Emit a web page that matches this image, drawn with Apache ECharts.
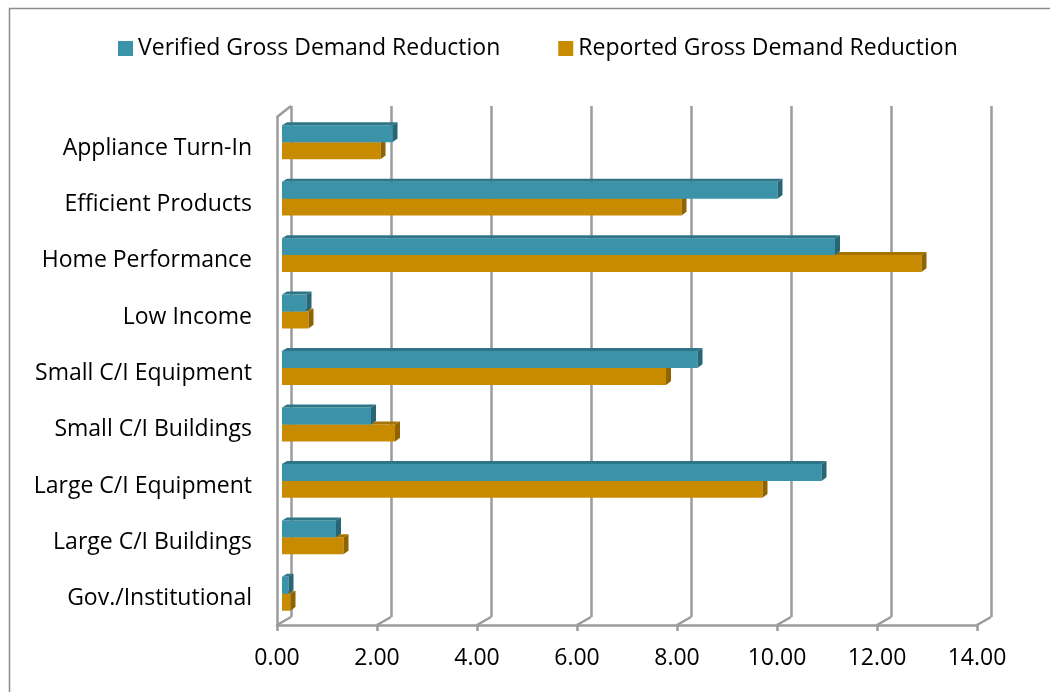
<!DOCTYPE html>
<html>
<head>
<meta charset="utf-8">
<script src="https://cdn.jsdelivr.net/npm/echarts@6/dist/echarts.min.js"></script>
<style>
html,body{margin:0;padding:0;background:#fff;}
#chart{width:1050px;height:692px;}
</style>
</head>
<body>
<div id="chart"></div>
<script>
const categories = ['Appliance Turn-In','Efficient Products','Home Performance','Low Income','Small C/I Equipment','Small C/I Buildings','Large C/I Equipment','Large C/I Buildings','Gov./Institutional'];
const verified = [2.21, 9.91, 11.06, 0.49, 8.31, 1.78, 10.79, 1.08, 0.13];
const reported = [1.97, 7.99, 12.79, 0.53, 7.68, 2.26, 9.61, 1.23, 0.17];
const xTicks = [0, 2, 4, 6, 8, 10, 12, 14];
const seriesNames = ['Verified Gross Demand Reduction', 'Reported Gross Demand Reduction'];

const FONT = 'Open Sans';
const GRID_COLOR = '#9b9b9b';
const GRID_W = 2.5;
const DX = 5, DY = 3;

function barRenderer(which, front, topC, sideC) {
  return function (params, api) {
    const val = api.value(0), ci = api.value(1);
    const s = api.coord([0, ci]);
    const e = api.coord([val, ci]);
    const band = api.size([0, 1])[1];
    const h = band * 0.3;
    const cy = s[1];
    const y0 = which === 0 ? cy - h : cy;
    const x0 = s[0], x1 = e[0];
    return {
      type: 'group',
      children: [
        { type: 'rect', shape: { x: x0, y: y0, width: x1 - x0, height: h }, style: { fill: front } },
        { type: 'polygon', shape: { points: [[x0, y0], [x1, y0], [x1 + DX, y0 - DY], [x0 + DX, y0 - DY]] }, style: { fill: topC } },
        { type: 'polygon', shape: { points: [[x1, y0], [x1 + DX, y0 - DY], [x1 + DX, y0 + h - DY - 1], [x1 + DX - 1, y0 + h - DY], [x1, y0 + h]] }, style: { fill: sideC } }
      ]
    };
  };
}

const chart = echarts.init(document.getElementById('chart'));
chart.setOption({
  animation: false,
  textStyle: { fontFamily: FONT },
  graphic: [{
    type: 'rect', left: 7, top: 6, shape: { x: 0, y: 0, width: 1100, height: 720 },
    style: { fill: 'none', stroke: '#8c8c8c', lineWidth: 1.5 }, silent: true, z: -10
  }],
  legend: {
    data: seriesNames,
    left: 113, top: 32,
    itemWidth: 15, itemHeight: 15, itemGap: 58,
    icon: 'rect',
    textStyle: { fontSize: 23, color: '#000', fontFamily: FONT }
  },
  grid: [
    { left: 282, right: 68, top: 114, bottom: 70 },
    { left: 277, right: 73, top: 117, bottom: 67 },
    { left: 291, right: 59, top: 106, bottom: 75 },
    { left: 277, right: 73, top: 120, bottom: 65 }
  ],
  xAxis: [
    { gridIndex: 0, type: 'value', min: 0, max: 14, interval: 2, show: false },
    { gridIndex: 1, type: 'value', min: 0, max: 14, interval: 2,
      axisLine: { show: true, lineStyle: { color: GRID_COLOR, width: GRID_W } },
      axisTick: { show: true, length: 6, lineStyle: { color: GRID_COLOR, width: GRID_W } },
      axisLabel: { formatter: v => v.toFixed(2), fontSize: 23, color: '#000', margin: 22, fontFamily: FONT },
      splitLine: { show: false } },
    { gridIndex: 2, type: 'value', min: 0, max: 14, interval: 2,
      axisLine: { show: false }, axisTick: { show: false }, axisLabel: { show: false },
      splitLine: { show: true, lineStyle: { color: GRID_COLOR, width: GRID_W } } },
    { gridIndex: 3, type: 'value', min: 0, max: 14, show: false }
  ],
  yAxis: [
    { gridIndex: 0, type: 'category', data: categories, inverse: true, show: false },
    { gridIndex: 1, type: 'value', min: 0, max: 1,
      axisLine: { show: true, lineStyle: { color: GRID_COLOR, width: GRID_W } },
      axisTick: { show: false }, axisLabel: { show: false }, splitLine: { show: false } },
    { gridIndex: 2, type: 'value', min: 0, max: 1, show: false, splitLine: { show: false } },
    { gridIndex: 3, type: 'category', data: categories, inverse: true,
      axisLine: { show: false }, axisTick: { show: false },
      axisLabel: { fontSize: 23, color: '#000', margin: 25, fontFamily: FONT } }
  ],
  series: [
    {
      name: seriesNames[1], type: 'custom', xAxisIndex: 0, yAxisIndex: 0, z: 2,
      itemStyle: { color: '#C88B00' },
      encode: { x: 0, y: 1 },
      data: reported.map((v, i) => [v, i]),
      renderItem: barRenderer(1, '#C88B00', '#A57300', '#8F6400')
    },
    {
      name: seriesNames[0], type: 'custom', xAxisIndex: 0, yAxisIndex: 0, z: 3,
      itemStyle: { color: '#3A93A8' },
      encode: { x: 0, y: 1 },
      data: verified.map((v, i) => [v, i]),
      renderItem: barRenderer(0, '#3A93A8', '#2E7687', '#276676')
    },
    {
      type: 'custom', xAxisIndex: 2, yAxisIndex: 2, silent: true, z: 1,
      data: xTicks.map(v => [v]),
      encode: { x: 0 },
      renderItem: function (params, api) {
        const v = api.value(0);
        const b = api.coord([v, 0]);
        const st = { stroke: GRID_COLOR, lineWidth: GRID_W, fill: 'none' };
        const children = [{ type: 'line', shape: { x1: b[0], y1: b[1], x2: b[0] - 14, y2: b[1] + 8 }, style: st }];
        if (v === 0) {
          const t = api.coord([0, 1]);
          children.push({ type: 'line', shape: { x1: t[0], y1: t[1], x2: t[0] - 14, y2: t[1] + 11 }, style: st });
        }
        return { type: 'group', children: children };
      }
    }
  ]
});
</script>
</body>
</html>
